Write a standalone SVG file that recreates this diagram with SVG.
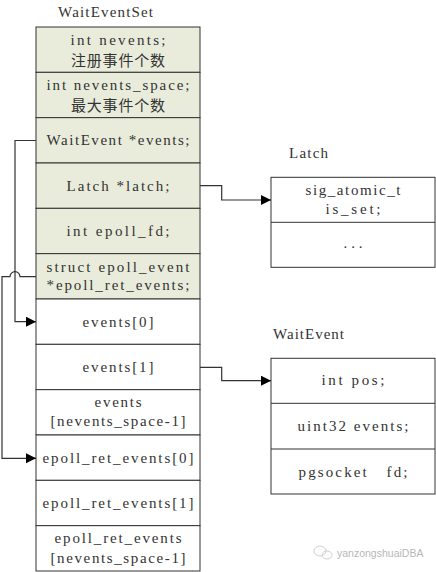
<svg xmlns="http://www.w3.org/2000/svg" width="436" height="572" viewBox="0 0 436 572">
<style>
.t{font-family:"Liberation Serif","Noto Sans CJK SC",serif;font-size:15px;fill:#333;text-anchor:middle;white-space:pre}
.lbl{font-family:"Liberation Serif",serif;font-size:15px;fill:#333;white-space:pre}
.cn{font-family:"Noto Sans CJK SC",sans-serif;font-size:15px;fill:#333;text-anchor:middle}
.g{fill:#E9ECDB;stroke:#333;stroke-width:1}
.w{fill:#fff;stroke:#333;stroke-width:1}
.c{fill:none;stroke:#333;stroke-width:1.2}
.wm{font-family:"Liberation Sans",Arial,sans-serif;font-size:10.5px;fill:#b8b8b8}
</style>
<defs>
<marker id="ah" markerUnits="userSpaceOnUse" markerWidth="11" markerHeight="11" refX="10" refY="5" orient="auto">
<path d="M0,0 L10,5 L0,10 z" fill="#000"/>
</marker>
</defs>
<text class="lbl" x="58" y="17" textLength="95" lengthAdjust="spacing">WaitEventSet</text>
<g id="nevents"><rect class="g" x="36" y="27" width="164" height="45.33"/><text class="t" x="118" y="44.5" textLength="95" lengthAdjust="spacing">int nevents;</text><text class="cn" x="118" y="65.5" textLength="94" lengthAdjust="spacing">注册事件个数</text></g>
<g id="nevents_space"><rect class="g" x="36" y="72.33" width="164" height="45.33"/><text class="t" x="118" y="89.5" textLength="143" lengthAdjust="spacing">int nevents_space;</text><text class="cn" x="118" y="110.5" textLength="94" lengthAdjust="spacing">最大事件个数</text></g>
<g id="events_ptr"><rect class="g" x="36" y="117.67" width="164" height="45.33"/><text class="t" x="118" y="145.3" textLength="143" lengthAdjust="spacing">WaitEvent *events;</text></g>
<g id="latch_ptr"><rect class="g" x="36" y="163" width="164" height="45.33"/><text class="t" x="118" y="190.7" textLength="103" lengthAdjust="spacing">Latch *latch;</text></g>
<g id="epoll_fd"><rect class="g" x="36" y="208.33" width="164" height="45.33"/><text class="t" x="118" y="236" textLength="103" lengthAdjust="spacing">int epoll_fd;</text></g>
<g id="epoll_ret_ptr"><rect class="g" x="36" y="253.67" width="164" height="45.33"/><text class="t" x="118" y="271.5" textLength="143" lengthAdjust="spacing">struct epoll_event</text><text class="t" x="118" y="290.3" textLength="143" lengthAdjust="spacing">*epoll_ret_events;</text></g>
<g id="events0"><rect class="w" x="36" y="299" width="164" height="45.33"/><text class="t" x="118" y="326.7" textLength="71" lengthAdjust="spacing">events[0]</text></g>
<g id="events1"><rect class="w" x="36" y="344.33" width="164" height="45.33"/><text class="t" x="118" y="372" textLength="71" lengthAdjust="spacing">events[1]</text></g>
<g id="events_last"><rect class="w" x="36" y="389.67" width="164" height="45.33"/><text class="t" x="118" y="407" textLength="47" lengthAdjust="spacing">events</text><text class="t" x="118" y="426" textLength="135" lengthAdjust="spacing">[nevents_space-1]</text></g>
<g id="ret0"><rect class="w" x="36" y="435" width="164" height="45.33"/><text class="t" x="118" y="462.7" textLength="151" lengthAdjust="spacing">epoll_ret_events[0]</text></g>
<g id="ret1"><rect class="w" x="36" y="480.33" width="164" height="45.33"/><text class="t" x="118" y="508" textLength="151" lengthAdjust="spacing">epoll_ret_events[1]</text></g>
<g id="ret_last"><rect class="w" x="36" y="525.67" width="164" height="45.33"/><text class="t" x="118" y="543.3" textLength="127" lengthAdjust="spacing">epoll_ret_events</text><text class="t" x="118" y="563" textLength="135" lengthAdjust="spacing">[nevents_space-1]</text></g>
<g id="latch">
<text class="lbl" x="289" y="158.3" textLength="39" lengthAdjust="spacing">Latch</text>
<rect class="w" x="271" y="177.3" width="164" height="90"/>
<line x1="271" y1="222.3" x2="435" y2="222.3" stroke="#333"/>
<text class="t" x="353" y="195" textLength="95" lengthAdjust="spacing">sig_atomic_t</text>
<text class="t" x="353" y="213.5" textLength="55" lengthAdjust="spacing">is_set;</text>
<text class="t" x="353" y="248" textLength="19" lengthAdjust="spacing">...</text>
</g>
<g id="waitevent">
<text class="lbl" x="273" y="339" textLength="71" lengthAdjust="spacing">WaitEvent</text>
<rect class="w" x="271" y="358.3" width="164" height="135.7"/>
<line x1="271" y1="403.3" x2="435" y2="403.3" stroke="#333"/>
<line x1="271" y1="449" x2="435" y2="449" stroke="#333"/>
<text class="t" x="353" y="385" textLength="63" lengthAdjust="spacing">int pos;</text>
<text class="t" x="353" y="430.7" textLength="111" lengthAdjust="spacing">uint32 events;</text>
<text class="t" x="353" y="476.7" textLength="109" lengthAdjust="spacing">pgsocket   fd;</text>
</g>
<g id="connectors">
<path class="c" d="M200,185.7 H221.7 V200 H271" marker-end="url(#ah)"/>
<path class="c" d="M200,367.3 H221.7 V380.7 H271" marker-end="url(#ah)"/>
<path class="c" d="M36,140.5 H15 V321.7 H36" marker-end="url(#ah)"/>
<path class="c" d="M36,276.7 H20 A5,5 0 0 0 10,276.7 H2 V458.3 H36" marker-end="url(#ah)"/>
</g>
<g id="watermark">
<ellipse cx="320" cy="551" rx="6" ry="5" fill="none" stroke="#cfcfcf"/>
<ellipse cx="327" cy="555" rx="5" ry="4" fill="none" stroke="#cfcfcf"/>
<text class="wm" x="337" y="557">yanzongshuaiDBA</text>
</g>
</svg>
